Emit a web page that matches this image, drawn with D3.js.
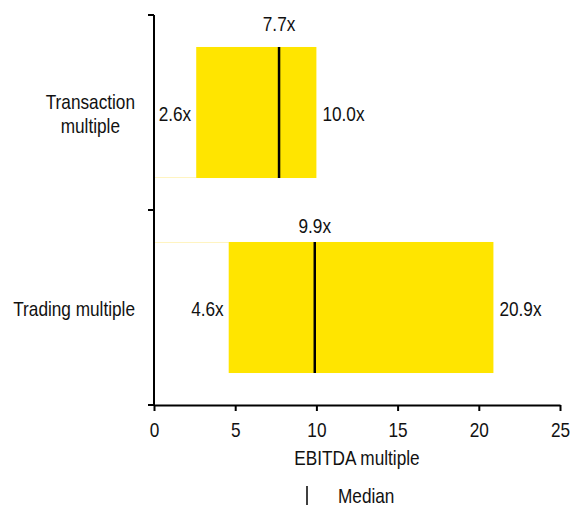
<!DOCTYPE html>
<html>
<head>
<meta charset="utf-8">
<script src="https://cdn.jsdelivr.net/npm/d3@7"></script>
<style>
  body { margin: 0; background: #fff; }
  svg text { font-family: "Liberation Sans", Arial, sans-serif; fill: #111; }
</style>
</head>
<body>
<svg id="chart" width="571" height="507"></svg>
<script>
// EBITDA multiple ranges: low, median, high
const categories = ["Transaction multiple", "Trading multiple"];
const lows = [2.6, 4.6];
const medians = [7.7, 9.9];
const highs = [10.0, 20.9];
const xTicks = [0, 5, 10, 15, 20, 25];

const svg = d3.select("#chart");
const margin = { left: 154, right: 11, top: 15, bottom: 102 };
const W = 571, H = 507;
const FS = 21;
const NARROW = 0.82; // horizontal squeeze for a narrow sans look

// text helper: narrow text anchored at (x, y)
function label(parent, x, y, text, anchor = "start", size = FS) {
  const g = parent.append("g").attr("transform", `translate(${x},${y}) scale(${NARROW},1)`);
  return g.append("text").attr("text-anchor", anchor).attr("font-size", size).text(text);
}

const x = d3.scaleLinear().domain([0, 25]).range([margin.left, W - margin.right]);
const y = d3.scaleBand().domain(categories).range([margin.top, H - margin.bottom]).padding(0);
const barH = y.bandwidth() * 0.672;
const barY = c => y(c) + (y.bandwidth() - barH) / 2;
const midY = c => y(c) + y.bandwidth() / 2;

const rows = categories.map((c, i) => ({ c, lo: lows[i], med: medians[i], hi: highs[i], i }));

// faint base-segment edges
svg.selectAll("line.base").data(rows).join("line")
  .attr("x1", x(0)).attr("x2", d => x(d.lo))
  .attr("y1", d => d.i === 0 ? barY(d.c) + barH - 0.5 : barY(d.c) + 0.5)
  .attr("y2", d => d.i === 0 ? barY(d.c) + barH - 0.5 : barY(d.c) + 0.5)
  .attr("stroke", "#fff4c0").attr("stroke-width", 1);

// range bars
svg.selectAll("rect.range").data(rows).join("rect")
  .attr("x", d => x(d.lo)).attr("width", d => x(d.hi) - x(d.lo))
  .attr("y", d => barY(d.c)).attr("height", barH)
  .attr("fill", "#ffe500");

// median markers
svg.selectAll("line.med").data(rows).join("line")
  .attr("x1", d => x(d.med)).attr("x2", d => x(d.med))
  .attr("y1", d => barY(d.c)).attr("y2", d => barY(d.c) + barH)
  .attr("stroke", "#000").attr("stroke-width", 2.5);

// value labels
const fmt = v => v.toFixed(1) + "x";
const medGap = [16, 9];
rows.forEach(d => {
  label(svg, x(d.med), barY(d.c) - medGap[d.i], fmt(d.med), "middle");
  label(svg, x(d.lo) - 5, midY(d.c) + 8, fmt(d.lo), "end");
  label(svg, x(d.hi) + 6, midY(d.c) + 8, fmt(d.hi), "start");
});

// x axis
const xAxis = svg.append("g").attr("transform", `translate(0,${H - margin.bottom})`)
  .call(d3.axisBottom(x).tickValues(xTicks).tickSize(6).tickPadding(11).tickSizeOuter(0));
xAxis.select(".domain").attr("stroke", "#000").attr("stroke-width", 2);
xAxis.selectAll(".tick line").attr("stroke", "#000").attr("stroke-width", 2);
xAxis.selectAll(".tick text").attr("font-size", FS).attr("font-family", null)
  .attr("fill", "#111").attr("transform", `scale(${NARROW},1)`);

// y axis: ticks at band boundaries
const yAxis = svg.append("g").attr("transform", `translate(${margin.left},0)`);
yAxis.append("line").attr("x1", 0).attr("x2", 0)
  .attr("y1", margin.top).attr("y2", H - margin.bottom)
  .attr("stroke", "#000").attr("stroke-width", 2);
const bounds = [y(categories[0]), y(categories[1]), y(categories[1]) + y.bandwidth()];
yAxis.selectAll("line.yt").data(bounds).join("line")
  .attr("x1", -6).attr("x2", 0).attr("y1", d => d).attr("y2", d => d)
  .attr("stroke", "#000").attr("stroke-width", 2);

// category labels: lines centred, block right-aligned near axis
const catLines = [["Transaction", "multiple"], ["Trading multiple"]];
const labelRight = margin.left - 19;
const lh = 24;
catLines.forEach((lines, i) => {
  const cy = midY(categories[i]);
  const lineY = j => cy + 8.5 - (lines.length - 1) * lh / 2 + j * lh;
  const texts = lines.map((t, j) => label(svg, 0, lineY(j), t, "middle"));
  const maxW = d3.max(texts, t => t.node().getComputedTextLength()) * NARROW;
  texts.forEach((t, j) => d3.select(t.node().parentNode)
    .attr("transform", `translate(${labelRight - maxW / 2},${lineY(j)}) scale(${NARROW},1)`));
});

// axis title
label(svg, (x(0) + x(25)) / 2, 465, "EBITDA multiple", "middle");

// legend
svg.append("line").attr("x1", 307).attr("x2", 307).attr("y1", 486).attr("y2", 505)
  .attr("stroke", "#000").attr("stroke-width", 1.5);
label(svg, 338, 503, "Median");
</script>
</body>
</html>
